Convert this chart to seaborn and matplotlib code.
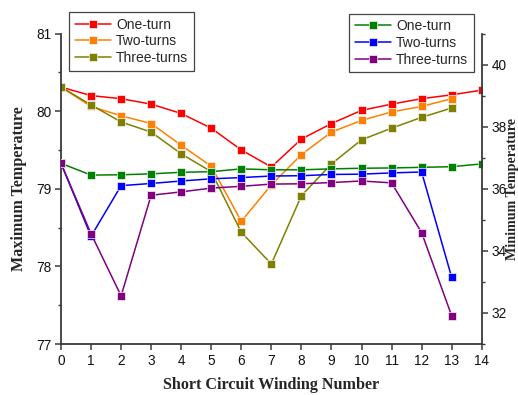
import matplotlib
matplotlib.use("Agg")
import matplotlib.pyplot as plt
from matplotlib.ticker import MultipleLocator
import seaborn as sns

# Short-circuited winding index
winding = list(range(15))

# Maximum temperature (left axis)
max_one = [80.31, 80.20, 80.16, 80.09, 79.97, 79.78, 79.50, 79.28,
           79.64, 79.84, 80.01, 80.09, 80.16, 80.21, 80.27]
max_two = [80.31, 80.06, 79.94, 79.84, 79.56, 79.29, 78.58, 79.05,
           79.44, 79.73, 79.88, 79.99, 80.06, 80.16]
max_three = [80.31, 80.08, 79.86, 79.73, 79.45, 79.22, 78.44, 78.03,
             78.91, 79.32, 79.63, 79.78, 79.92, 80.04]

# Minimum temperature (right axis)
min_one = [36.82, 36.44, 36.45, 36.48, 36.53, 36.55, 36.64, 36.61,
           36.61, 36.64, 36.66, 36.67, 36.69, 36.71, 36.80]
min_two = [36.82, 34.47, 36.10, 36.17, 36.25, 36.32, 36.36, 36.41,
           36.42, 36.46, 36.47, 36.51, 36.54, 33.15]
min_three = [36.82, 34.55, 32.55, 35.79, 35.90, 36.02, 36.08, 36.15,
             36.16, 36.20, 36.25, 36.19, 34.59, 31.91]

series_labels = ["One-turn", "Two-turns", "Three-turns"]
max_colors = ["#FF0000", "#FF8000", "#808000"]
min_colors = ["#008000", "#0000FF", "#800080"]

sns.set_theme(style="ticks")
plt.rcParams["font.family"] = ["Liberation Sans", "DejaVu Sans"]

fig = plt.figure(figsize=(5.18, 3.95), dpi=100)
ax = fig.add_axes([61 / 518, 51 / 395, 420.7 / 518, 310.5 / 395])
ax2 = ax.twinx()

line_kw = dict(marker="s", markersize=6, linewidth=1.1,
               markeredgecolor="#f4f4f4", markeredgewidth=0.5)

for vals, lab, col in zip([max_one, max_two, max_three], series_labels, max_colors):
    sns.lineplot(x=winding[:len(vals)], y=vals, ax=ax, color=col, label=lab, **line_kw)
for vals, lab, col in zip([min_one, min_two, min_three], series_labels, min_colors):
    sns.lineplot(x=winding[:len(vals)], y=vals, ax=ax2, color=col, label=lab, **line_kw)

ax.set_xlim(0, 14)
ax.set_ylim(77, 81)
ax2.set_ylim(31, 41)
ax.xaxis.set_major_locator(MultipleLocator(1))
ax.yaxis.set_major_locator(MultipleLocator(1))
ax.yaxis.set_minor_locator(MultipleLocator(0.5))
ax2.yaxis.set_major_locator(MultipleLocator(2))
ax2.yaxis.set_minor_locator(MultipleLocator(1))

spine_col = "#3a3a3a"
for a in (ax, ax2):
    a.spines["top"].set_visible(False)
    for s in a.spines.values():
        s.set_color(spine_col)
        s.set_linewidth(1.3)
    a.tick_params(which="major", direction="out", length=4.5, width=1.1,
                  color=spine_col, labelsize=9.8, labelcolor="#111111", pad=2.5)
    a.tick_params(which="minor", direction="out", length=2.5, width=1.0,
                  color=spine_col)
ax2.spines["left"].set_visible(False)
ax.spines["right"].set_visible(False)
ax2.spines["bottom"].set_visible(False)

ax.set_xlabel("")
ax.set_ylabel("")
ax2.set_ylabel("")
label_font = dict(family=["Liberation Serif", "DejaVu Serif"], weight="bold", size=11.6)
fig.text(271.5 / 518, 1 - 385 / 395, "Short Circuit Winding Number",
         ha="center", va="center", **label_font)
fig.text(19.5 / 518, 1 - 189 / 395, "Maximum Temperature", rotation=90,
         ha="center", va="center", **label_font)
fig.text(512.5 / 518, 1 - 189 / 395, "Minimum Temperature", rotation=90,
         ha="center", va="center",
         **{**label_font, "size": 10.2})

leg_kw = dict(fontsize=10, frameon=True, fancybox=False, framealpha=1,
              edgecolor="#444444", handlelength=2.6, handletextpad=0.4,
              labelspacing=0.2, borderpad=0.4, borderaxespad=0)
leg1 = ax.legend(loc="upper left", bbox_to_anchor=(69 / 518, 1 - 12 / 395),
                 bbox_transform=fig.transFigure, **leg_kw)
leg2 = ax2.legend(loc="upper left", bbox_to_anchor=(349 / 518, 1 - 13.5 / 395),
                  bbox_transform=fig.transFigure, **leg_kw)
for leg in (leg1, leg2):
    leg.get_frame().set_linewidth(0.9)

fig.savefig("out.png", dpi=100)
